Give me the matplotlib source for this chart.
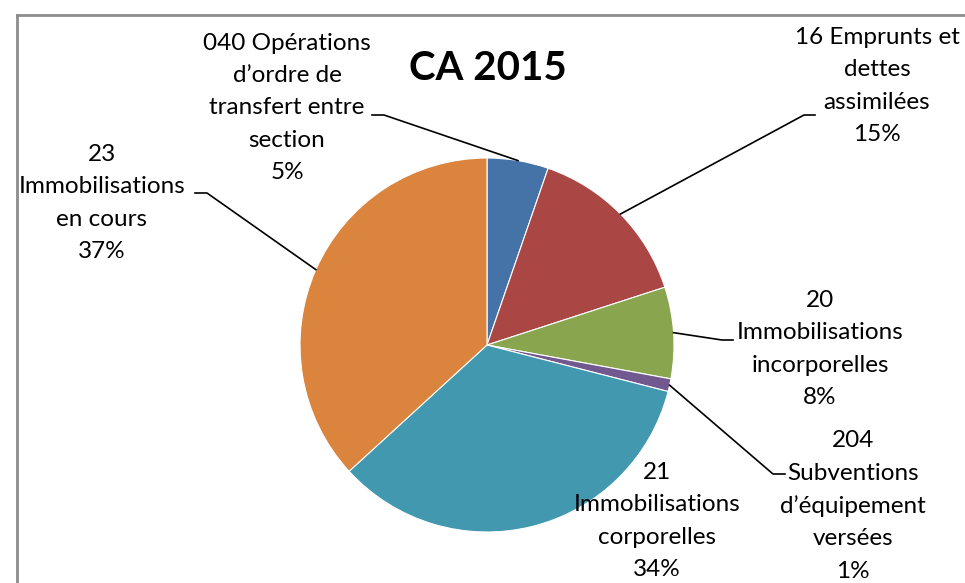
import numpy as np
import matplotlib.pyplot as plt
from matplotlib.lines import Line2D

plt.rcParams['font.family'] = ['Lato', 'DejaVu Sans']

categories = ['040 Opérations\nd\u2019ordre de\ntransfert entre\nsection',
              '16 Emprunts et\ndettes\nassimilées',
              '20\nImmobilisations\nincorporelles',
              '204\nSubventions\nd\u2019équipement\nversées',
              '21\nImmobilisations\ncorporelles',
              '23\nImmobilisations\nen cours']
values = [5.3, 14.7, 7.9, 1.1, 34.2, 36.8]
colors = ['#4572A7', '#AA4643', '#89A54E', '#71588F', '#4198AF', '#DB843D']

W, H = 965, 583
fig = plt.figure(figsize=(W / 100, H / 100), dpi=100)
ax = fig.add_axes([0, 0, 1, 1])
ax.set_xlim(0, W)
ax.set_ylim(0, H)
ax.set_aspect('equal')
ax.axis('off')

cx, cy, r = 487, H - 345, 187
wedges, _ = ax.pie(values, colors=colors, startangle=90, counterclock=False,
                   center=(cx, cy), radius=r,
                   wedgeprops=dict(edgecolor='white', linewidth=0.8))
ax.set_xlim(0, W)
ax.set_ylim(0, H)

# label text centre (pixels) and leader elbow (pixels, None = no leader)
label_pos = [(287, 108), (877, 86), (820, 349), (853, 506), (657, 521), (102, 203)]
elbows = [[(372, 115), (384, 115)],
          [(815, 115), (804, 115)],
          [(733, 340), (722, 340)],
          [(785, 474), (773, 474)],
          None,
          [(195, 193), (207, 193)]]

total = sum(values)
for w, cat, v, (tx, ty), elb in zip(wedges, categories, values, label_pos, elbows):
    pct = round(v / total * 100)
    ax.text(tx, H - ty, f'{cat}\n{pct}%', ha='center', va='center',
            fontsize=17.5, linespacing=1.66, color='black')
    if elb is not None:
        mid = np.deg2rad((w.theta1 + w.theta2) / 2)
        ax_pt = (cx + r * np.cos(mid), cy + r * np.sin(mid))
        xs = [elb[0][0], elb[1][0], ax_pt[0]]
        ys = [H - elb[0][1], H - elb[1][1], ax_pt[1]]
        ax.plot(xs, ys, color='black', linewidth=1.2)

ax.text(488, H - 69, 'CA 2015', ha='center', va='center',
        fontsize=29, fontweight='bold')

# chart frame
fig.add_artist(Line2D([17 / W, 1], [1 - 15 / H, 1 - 15 / H], color='#8c8c8c', linewidth=2))
fig.add_artist(Line2D([17 / W, 17 / W], [0, 1 - 15 / H], color='#8c8c8c', linewidth=2))

fig.savefig('out.png', dpi=100)
